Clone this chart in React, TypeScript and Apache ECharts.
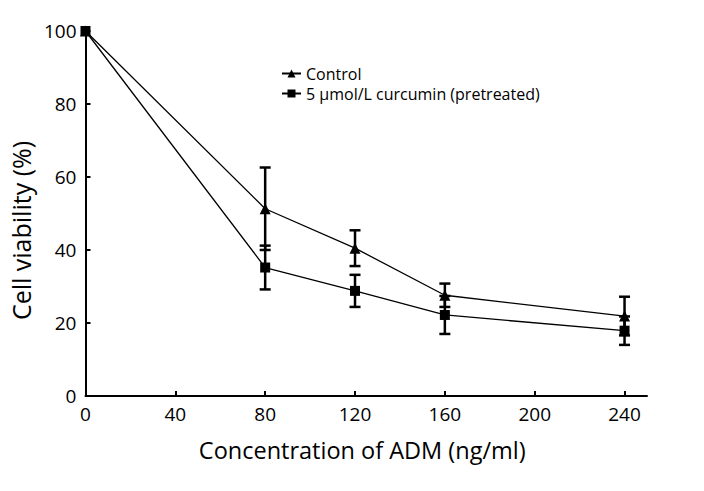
import React, { useEffect, useRef } from "react";
import * as echarts from "echarts";

const concentrations = [0, 80, 120, 160, 240];
const controlMean = [100, 51.3, 40.5, 27.6, 21.9];
const controlErr = [0, 11.3, 4.9, 3.2, 5.3];
const curcuminMean = [100, 35.2, 28.8, 22.2, 17.9];
const curcuminErr = [0, 6.0, 4.4, 5.2, 3.9];
const xTicks = [0, 40, 80, 120, 160, 200, 240];
const seriesNames = ["Control", "5 μmol/L curcumin (pretreated)"];

const FONT = "Open Sans";

function errorData(means: number[], errs: number[]) {
  return concentrations
    .map((x, i) => [x, means[i] - errs[i], means[i] + errs[i]])
    .filter((_, i) => errs[i] > 0);
}

function errorSeries(name: string, data: number[][]) {
  return {
    type: "custom",
    name: name + " error",
    data,
    z: 1,
    silent: true,
    renderItem: (params: any, api: any) => {
      const x = api.value(0);
      const lo = api.coord([x, api.value(1)]);
      const hi = api.coord([x, api.value(2)]);
      const w = 5.5;
      const style = { stroke: "#000", lineWidth: 2.5 };
      return {
        type: "group",
        children: [
          { type: "line", shape: { x1: lo[0], y1: lo[1], x2: hi[0], y2: hi[1] }, style },
          { type: "line", shape: { x1: lo[0] - w, y1: lo[1], x2: lo[0] + w, y2: lo[1] }, style },
          { type: "line", shape: { x1: hi[0] - w, y1: hi[1], x2: hi[0] + w, y2: hi[1] }, style },
        ],
      };
    },
  };
}

export default function App() {
  const ref = useRef<HTMLDivElement>(null);
  useEffect(() => {
    if (!ref.current) return;
    const chart = echarts.init(ref.current, null, { renderer: "svg" });
    chart.setOption({
      animation: false,
      backgroundColor: "#fff",
      grid: { left: 83, right: 57, top: 31, bottom: 95 },
      legend: {
        orient: "vertical",
        left: 276,
        top: 59,
        itemWidth: 19,
        itemHeight: 10,
        itemGap: 1,
        data: seriesNames,
        textStyle: { fontFamily: FONT, fontSize: 16, color: "#000", lineHeight: 19 },
      },
      xAxis: {
        type: "value",
        min: 0,
        max: 250,
        interval: 40,
        name: "Concentration of ADM (ng/ml)",
        nameLocation: "middle",
        nameGap: 42,
        nameTextStyle: { fontFamily: FONT, fontSize: 23.5, color: "#000", padding: [0, 8, 0, 0] },
        axisLine: { lineStyle: { color: "#000", width: 2 } },
        axisTick: { inside: true, length: 5, lineStyle: { color: "#000", width: 2 }, customValues: xTicks },
        axisLabel: { fontFamily: FONT, fontSize: 19, color: "#000", margin: 8, customValues: xTicks },
        splitLine: { show: false },
      },
      yAxis: {
        type: "value",
        min: 0,
        max: 100,
        interval: 20,
        name: "Cell viability (%)",
        nameLocation: "middle",
        nameGap: 50,
        nameTextStyle: { fontFamily: FONT, fontSize: 25, color: "#000", padding: [0, 34, 0, 0] },
        axisLine: { show: true, lineStyle: { color: "#000", width: 2 } },
        axisTick: { show: true, inside: true, length: 5, lineStyle: { color: "#000", width: 2 } },
        axisLabel: { fontFamily: FONT, fontSize: 19, color: "#000", margin: 9 },
        splitLine: { show: false },
      },
      series: [
        errorSeries(seriesNames[0], errorData(controlMean, controlErr)),
        errorSeries(seriesNames[1], errorData(curcuminMean, curcuminErr)),
        {
          type: "line",
          name: seriesNames[0],
          data: concentrations.map((x, i) => [x, controlMean[i]]),
          symbol: "triangle",
          symbolSize: 11,
          z: 3,
          lineStyle: { color: "#000", width: 1.3 },
          itemStyle: { color: "#000" },
        },
        {
          type: "line",
          name: seriesNames[1],
          data: concentrations.map((x, i) => [x, curcuminMean[i]]),
          symbol: "rect",
          symbolSize: 10,
          z: 4,
          lineStyle: { color: "#000", width: 1.3 },
          itemStyle: { color: "#000" },
        },
      ],
    });
    return () => chart.dispose();
  }, []);
  return <div ref={ref} style={{ width: 704, height: 491, margin: -8 }} />;
}
